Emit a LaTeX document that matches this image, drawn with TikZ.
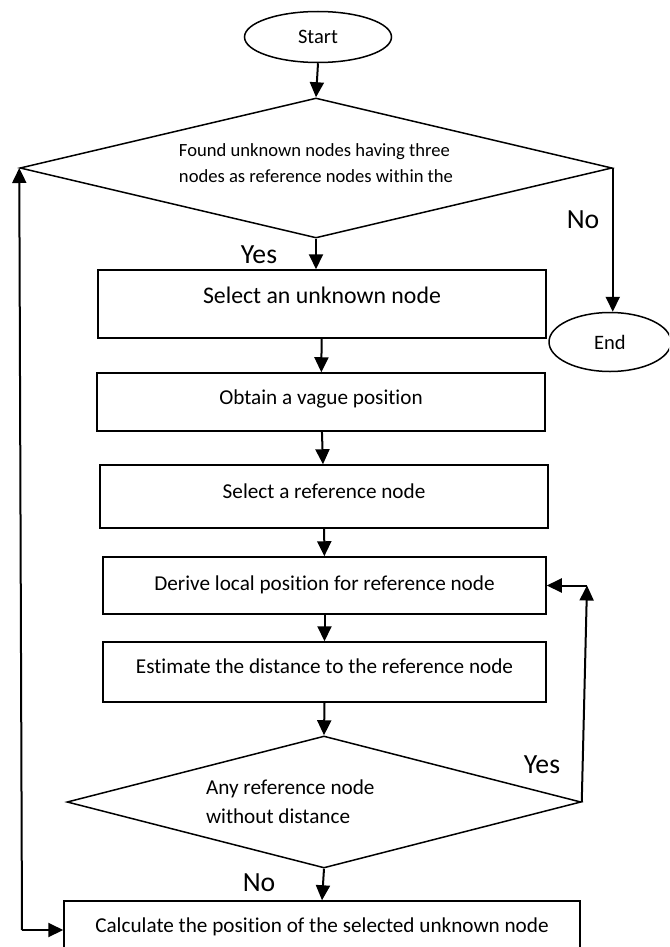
\documentclass[tikz,border=0pt]{standalone}
\usepackage{fontspec}
\setmainfont{Carlito}[Ligatures=CommonOff]
\usetikzlibrary{arrows.meta,shapes.geometric}

\begin{document}
\begin{tikzpicture}[x=1pt,y=-1pt,
    every node/.style={inner sep=0pt},
    term/.style={ellipse, draw, line width=1.5pt, font=\fontsize{20.5}{24}\selectfont},
    procbox/.style={rectangle, draw, line width=1.5pt, text height=15pt, font=\fontsize{21.2}{25}\selectfont},
    decide/.style={diamond, draw, line width=1.5pt, align=flush left},
    lbl/.style={font=\fontsize{27.7}{32}\selectfont},
    lift/.style={text depth=#1},
    flow/.style={line width=2pt, -{Triangle[length=15pt,width=14pt]}}]
    \clip (0,0) rectangle (669,947);
    \node[term, minimum width=147pt, minimum height=51pt] (start) at (318,37) {Start};
    \node[decide, minimum width=592pt, minimum height=140pt, shape aspect=4.2, text depth=10pt,
      font=\fontsize{18.6}{26}\selectfont] (found) at (316,168)
      {Found unknown nodes having three\\nodes as reference nodes within the};
    \node[procbox, minimum width=448pt, minimum height=68pt, text height=16.7pt, lift=18pt,
      font=\fontsize{23.8}{28}\selectfont] (selunk) at (322,304) {Select an unknown node};
    \node[procbox, minimum width=448pt, minimum height=58pt, lift=10pt] (vague) at (321,402) {Obtain a vague position};
    \node[procbox, minimum width=448pt, minimum height=63pt, lift=12pt] (pickref) at (324,496.5) {Select a reference node};
    \node[procbox, minimum width=443pt, minimum height=57pt, lift=6pt] (derive) at (324.5,585.5) {Derive local position for reference node};
    \node[procbox, minimum width=443pt, minimum height=60pt, lift=12pt] (estim) at (324.5,672) {Estimate the distance to the reference node};
    \node[decide, minimum width=514pt, minimum height=132pt, shape aspect=3.9, text width=236pt,
      font=\fontsize{21.2}{29}\selectfont] (anyref) at (324,802) {Any reference node\\without distance};
    \node[procbox, minimum width=516pt, minimum height=58pt, lift=10pt] (calc) at (322,930) {Calculate the position of the selected unknown node};
    \node[term, minimum width=122pt, minimum height=59pt] (stop) at (610,342) {End};
    \node[lbl] (yesa) at (259,255) {Yes};
    \node[lbl] (noa) at (583,220) {No};
    \node[lbl] (yesb) at (542,765) {Yes};
    \node[lbl] (nob) at (259,883) {No};
    \coordinate (backr) at (587,585.5);
    \coordinate (backl) at (22,930);
    \draw[flow] (start.south) -- (found.north);
    \draw[flow] (found.south) -- (found.south |- selunk.north);
    \draw[flow] (selunk) -- (vague);
    \draw[flow] (vague) -- (pickref);
    \draw[flow] (pickref) -- (derive);
    \draw[flow] (derive) -- (estim);
    \draw[flow] (estim.south) -- (anyref.north);
    \draw[flow] (anyref.south) -- (calc.north);
    \draw[flow] (found.east) -- (found.east |- stop.north);
    \draw[flow] (anyref.east) -- (backr);
    \draw[flow] (backr) -- (derive.east);
    \draw[flow] (backl) -- (found.west);
    \draw[flow] (backl) -- (calc.west);
\end{tikzpicture}
\end{document}
